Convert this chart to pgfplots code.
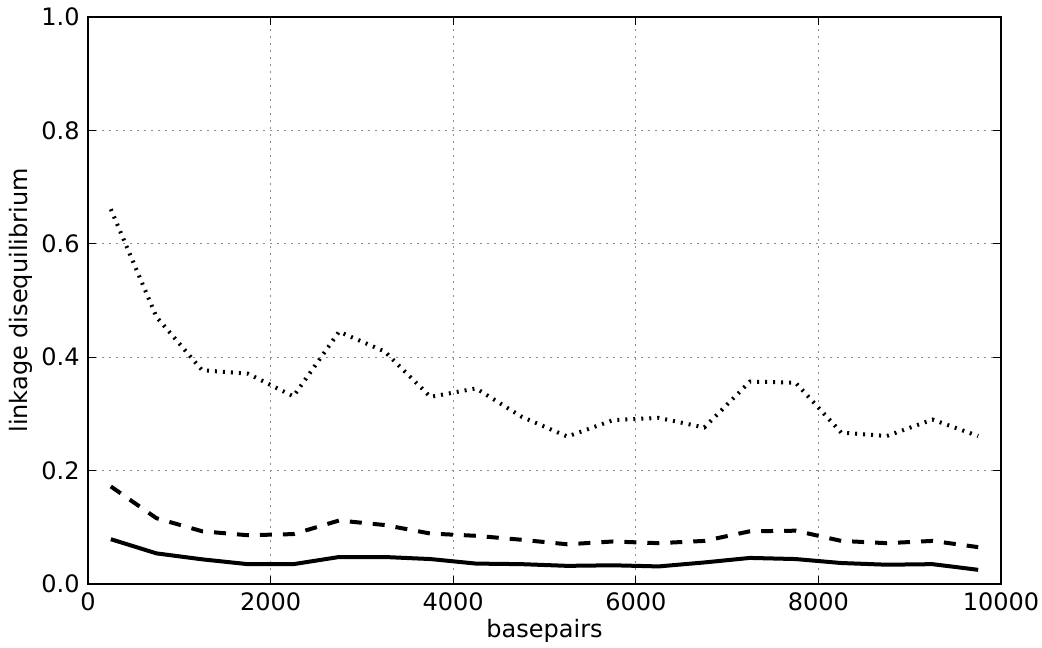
\documentclass[border=0pt]{standalone}
\usepackage{pgfplots}
\pgfplotsset{compat=1.18}
\usepackage{fontspec}
\setmainfont{DejaVu Sans}
\begin{document}
\fontsize{12}{14.4}\selectfont
\begin{tikzpicture}
\useasboundingbox (-44pt,-31.5pt) rectangle (477pt,292pt);
\begin{axis}[
  at={(0,0)}, anchor=south west,
  scale only axis,
  width=456.5pt, height=283.5pt,
  xmin=0, xmax=10000, ymin=0, ymax=1,
  xtick={0,2000,4000,6000,8000,10000},
  ytick={0,0.2,0.4,0.6,0.8,1.0},
  scaled ticks=false,
  /pgf/number format/assume math mode=true,
  xticklabel style={/pgf/number format/1000 sep={}, font=\fontsize{12}{14.4}\selectfont},
  yticklabel style={/pgf/number format/fixed, /pgf/number format/fixed zerofill, /pgf/number format/precision=1, font=\fontsize{12}{14.4}\selectfont},
  tick align=inside,
  major tick length=4pt,
  tick style={black, line width=0.6pt},
  axis line style={black, line width=1pt},
  grid=major,
  major grid style={black!45, line width=0.5pt, dash pattern=on 1pt off 2.5pt},
  xlabel={basepairs},
  ylabel={linkage disequilibrium},
  label style={font=\fontsize{12}{14.4}\selectfont},
  xlabel style={yshift=4pt},
  ylabel style={yshift=-3.5pt},
  clip=false,
]
\addplot[black, line width=2pt, dash pattern=on 1pt off 3pt] coordinates {
(250,0.661) (750,0.471) (1250,0.377) (1750,0.371) (2250,0.331)
(2750,0.445) (3250,0.410) (3750,0.330) (4250,0.345) (4750,0.295)
(5250,0.260) (5750,0.289) (6250,0.293) (6750,0.276) (7250,0.357)
(7750,0.355) (8250,0.267) (8750,0.261) (9250,0.290) (9750,0.261)
};
\addplot[black, line width=2pt, dash pattern=on 6pt off 5.5pt] coordinates {
(250,0.172) (750,0.116) (1250,0.093) (1750,0.086) (2250,0.088)
(2750,0.112) (3250,0.104) (3750,0.089) (4250,0.085) (4750,0.078)
(5250,0.070) (5750,0.075) (6250,0.072) (6750,0.076) (7250,0.093)
(7750,0.094) (8250,0.076) (8750,0.072) (9250,0.076) (9750,0.065)
};
\addplot[black, line width=2pt] coordinates {
(250,0.079) (750,0.054) (1250,0.0435) (1750,0.035) (2250,0.035)
(2750,0.0476) (3250,0.0476) (3750,0.044) (4250,0.036) (4750,0.035)
(5250,0.032) (5750,0.033) (6250,0.031) (6750,0.038) (7250,0.046)
(7750,0.044) (8250,0.037) (8750,0.034) (9250,0.035) (9750,0.025)
};
\end{axis}
\end{tikzpicture}
\end{document}
